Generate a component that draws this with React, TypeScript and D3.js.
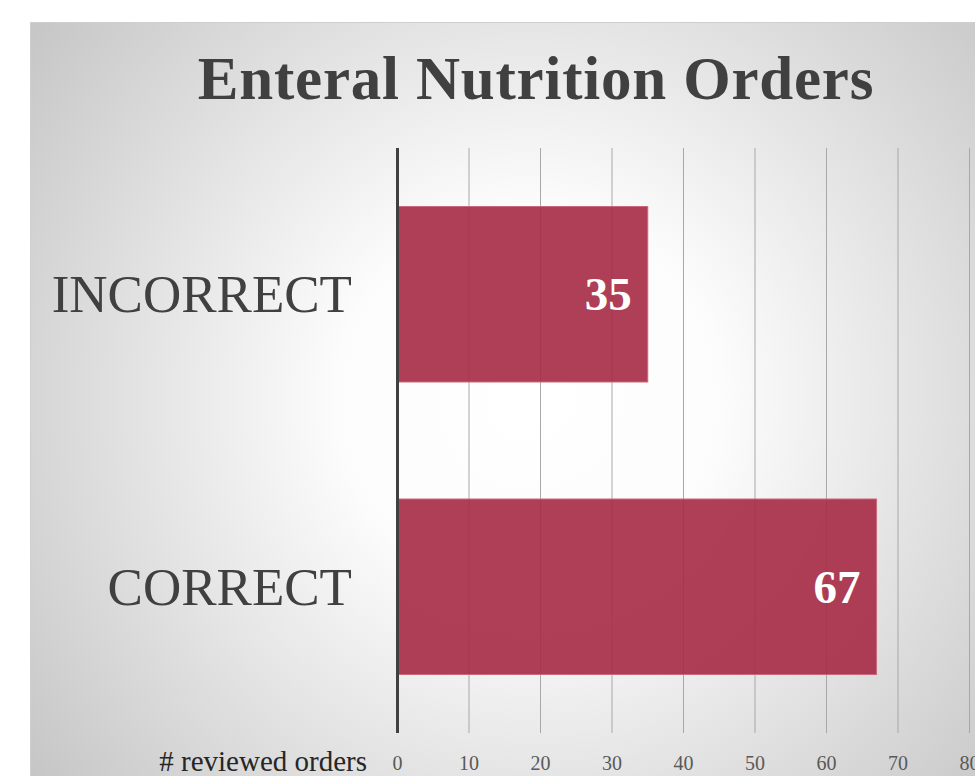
import React from 'react'
import * as d3 from 'd3'

// data
const categories = ['INCORRECT', 'CORRECT']
const values = [35, 67]
const xTicks = [0, 10, 20, 30, 40, 50, 60, 70, 80]
const title = 'Enteral Nutrition Orders'
const xAxisTitle = '# reviewed orders'

const W = 975
const H = 776
const FONT = '"Liberation Serif", "DejaVu Serif", serif'

const App = () => {
	const plot = { left: 397.5, right: 969.5, top: 148, bottom: 733 }

	const x = d3.scaleLinear().domain([0, 80]).range([plot.left, plot.right])
	const y = d3
		.scaleBand<string>()
		.domain(categories)
		.range([plot.top, plot.bottom])
		.paddingInner(0.4)
		.paddingOuter(0.2)

	return (
		<svg width={W} height={H} style={{ position: 'absolute', left: 0, top: 0 }}>
			<defs>
				<radialGradient id="bg" gradientUnits="userSpaceOnUse" cx={530} cy={400} r={640}>
					<stop offset="0" stopColor="#ffffff" />
					<stop offset="0.3" stopColor="#fcfcfc" />
					<stop offset="1" stopColor="#c4c4c4" />
				</radialGradient>
			</defs>

			{/* chart area */}
			<rect x={30.5} y={22.5} width={W + 10} height={H + 10} fill="url(#bg)" stroke="#cfcfcf" strokeWidth={1} />

			<text x={536} y={99} textAnchor="middle" fontFamily={FONT} fontWeight="bold" fontSize={61} letterSpacing={0.8} fill="#404040">
				{title}
			</text>

			{/* gridlines */}
			{xTicks.slice(1).map(t => (
				<line key={t} x1={x(t)} x2={x(t)} y1={plot.top} y2={plot.bottom} stroke="#a8a8a8" strokeWidth={1} />
			))}

			{/* bars */}
			{categories.map((c, i) => (
				<g key={c}>
					<rect
						x={x(0)}
						y={y(c)}
						width={x(values[i]) - x(0)}
						height={y.bandwidth()}
						fill="#a52a45"
						fillOpacity={0.9}
						stroke="#c96a7c"
						strokeWidth={1}
					/>
					<text
						x={x(values[i]) - 16}
						y={(y(c) as number) + y.bandwidth() / 2 + 16}
						textAnchor="end"
						fontFamily={FONT}
						fontWeight="bold"
						fontSize={47}
						fill="#ffffff"
					>
						{values[i]}
					</text>
					<text
						x={352}
						y={(y(c) as number) + y.bandwidth() / 2 + 18}
						textAnchor="end"
						fontFamily={FONT}
						fontSize={53}
						fill="#404040"
					>
						{c}
					</text>
				</g>
			))}

			{/* y axis line */}
			<line x1={x(0)} x2={x(0)} y1={plot.top} y2={plot.bottom} stroke="#404040" strokeWidth={3} />

			{/* x tick labels */}
			{xTicks.map(t => (
				<text key={t} x={x(t)} y={770} textAnchor="middle" fontFamily={FONT} fontSize={20} fill="#595959">
					{t}
				</text>
			))}

			<text x={367} y={771} textAnchor="end" fontFamily={FONT} fontSize={29} fill="#262626">
				{xAxisTitle}
			</text>
		</svg>
	)
}

export default App
